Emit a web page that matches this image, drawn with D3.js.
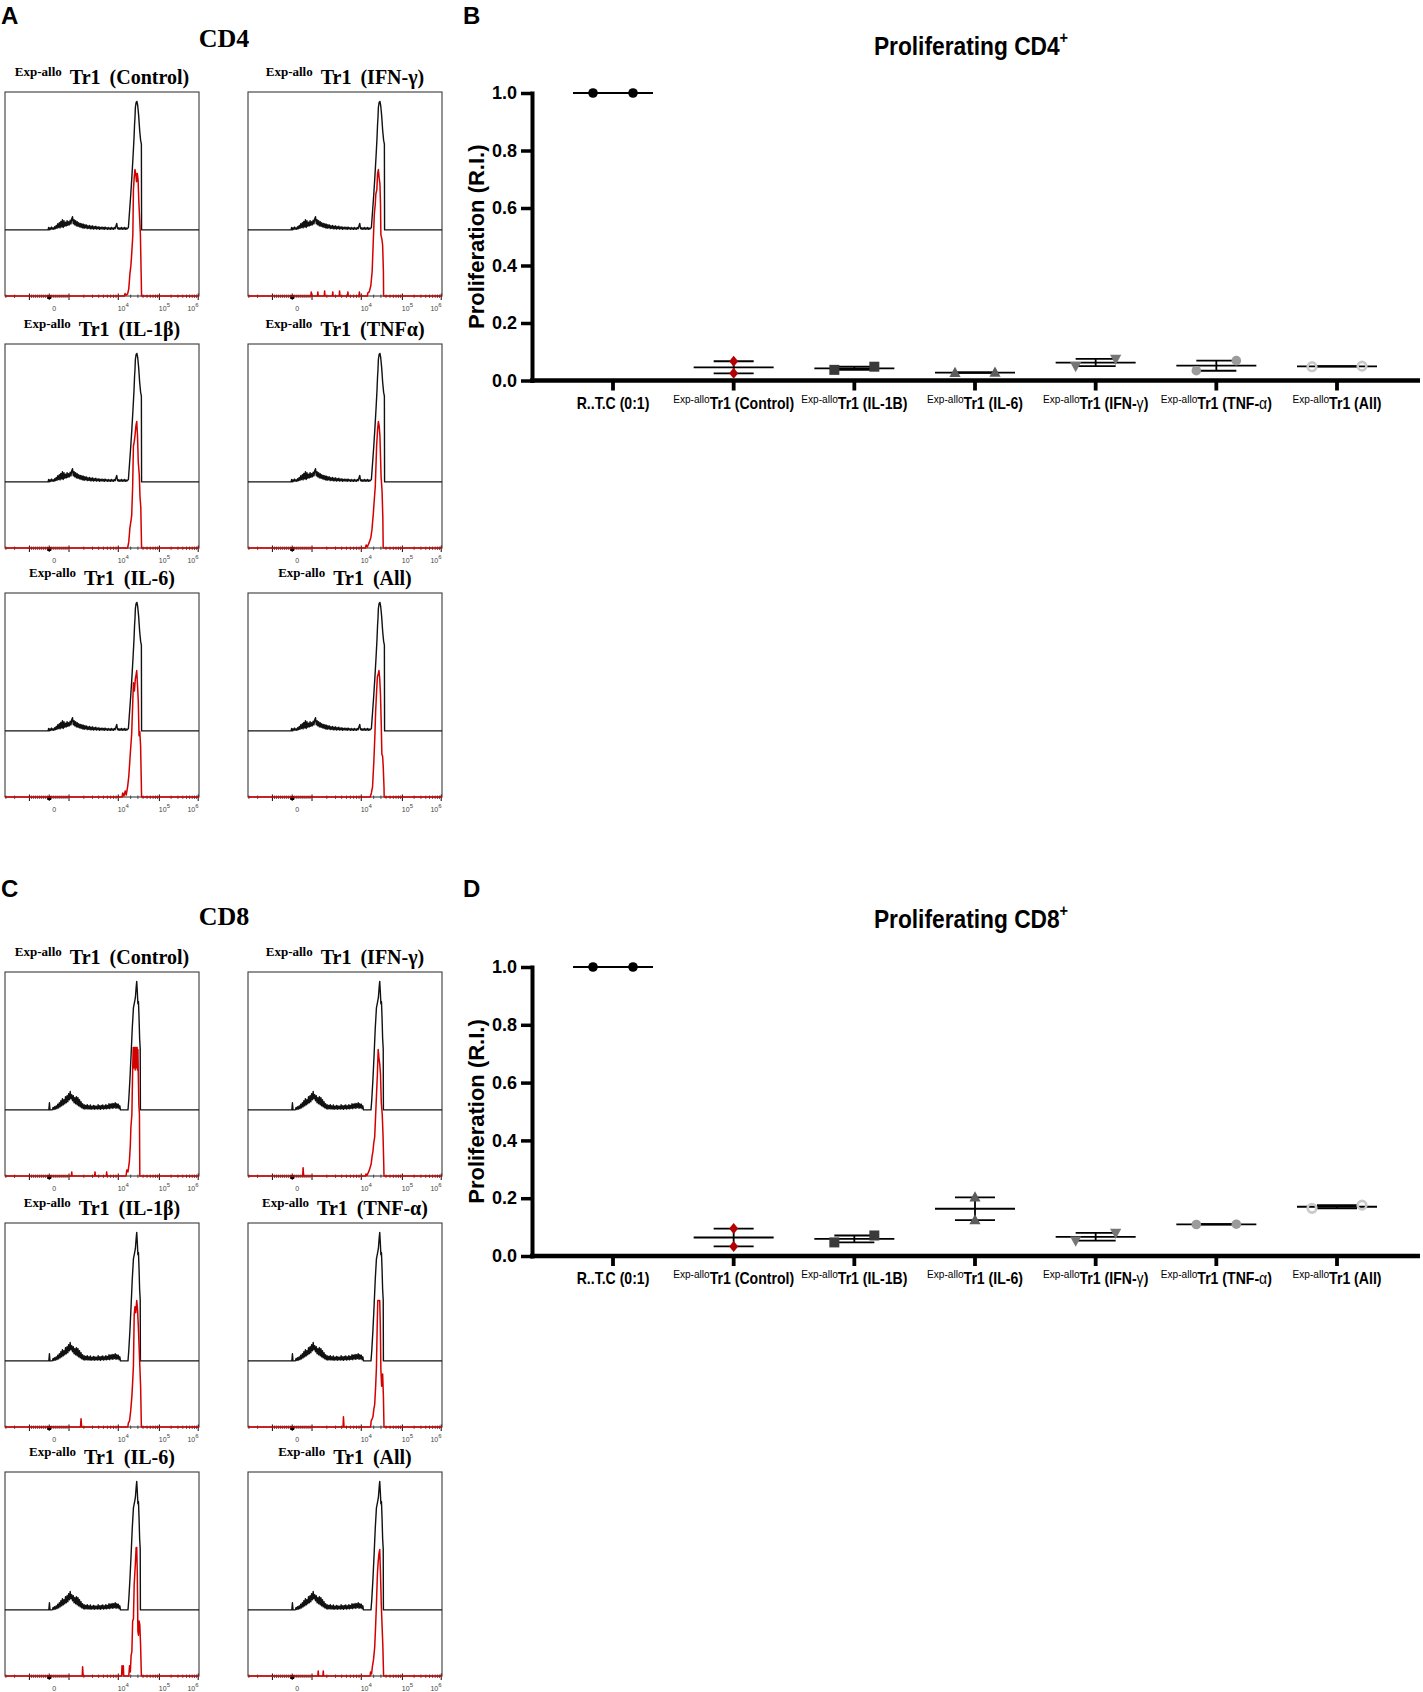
<!DOCTYPE html>
<html><head><meta charset="utf-8">
<script src="https://cdn.jsdelivr.net/npm/d3@7/dist/d3.min.js"></script>
<style>body{margin:0;background:#fff}svg{display:block}</style>
</head><body><svg id="c" width="1423" height="1692"></svg>
<script>
// ---------------- DATA ----------------
// Histogram curves: [channel (0-100 % of display range), height (fraction of modal height)]
const blackCD4 = [[0,0],[22.2,0],[22.5,0.012],[22.8,0],[23.2,0.01],[23.6,0.002],[24,0.014],[24.4,0.004],[24.8,0.01],[25.2,0.003],[25.6,0.016],[26,0.006],[26.4,0.022],[26.8,0.008],[27.2,0.03],[27.6,0.012],[28,0.035],[28.4,0.01],[28.8,0.042],[29.2,0.015],[29.6,0.05],[30,0.012],[30.4,0.045],[30.8,0.018],[31.2,0.038],[31.6,0.02],[32,0.045],[32.4,0.022],[32.8,0.04],[33.2,0.025],[33.6,0.048],[34,0.03],[34.4,0.055],[34.8,0.065],[35.2,0.03],[35.6,0.05],[36,0.025],[36.4,0.045],[36.8,0.02],[37.2,0.04],[37.6,0.018],[38,0.035],[38.4,0.015],[38.8,0.032],[39.2,0.012],[39.6,0.03],[40,0.01],[40.4,0.028],[40.8,0.008],[41.2,0.025],[41.6,0.01],[42,0.024],[42.4,0.006],[42.8,0.02],[43.2,0.008],[43.6,0.022],[44,0.005],[44.4,0.018],[44.8,0.006],[45.2,0.02],[45.6,0.004],[46,0.016],[46.4,0.006],[46.8,0.018],[47.2,0.004],[47.6,0.014],[48,0.005],[48.4,0.016],[48.8,0.003],[49.2,0.012],[49.6,0.005],[50,0.014],[50.4,0.004],[50.8,0.012],[51.2,0.003],[51.6,0.014],[52,0.005],[52.4,0.01],[52.8,0.003],[53.2,0.012],[53.6,0.004],[54,0.01],[54.4,0.003],[54.8,0.012],[55.2,0.004],[55.6,0.01],[56,0.003],[56.4,0.012],[56.8,0.006],[57.2,0.02],[57.6,0.032],[58,0.006],[58.4,0.01],[58.8,0.003],[59.2,0.01],[59.6,0.004],[60,0.012],[60.4,0.003],[60.8,0.01],[61.2,0.004],[61.6,0.012],[62,0.003],[62.4,0.01],[62.8,0.004],[63.2,0.008],[63.6,0.012],[64.2,0.09],[64.8,0.17],[65.4,0.26],[66,0.36],[66.5,0.45],[66.8,0.52],[67.0,0.55],[67.2,0.6],[67.6,0.625],[68.0,0.63],[68.4,0.61],[68.9,0.56],[69.4,0.49],[69.9,0.44],[70.3,0.42],[70.4,0],[100,0]];
const blackCD8 = [[0,0],[22.6,0],[22.9,0.035],[23.2,0],[24.4,0],[24.8,0.012],[25.2,0.002],[25.6,0.016],[26,0.004],[26.4,0.02],[26.8,0.006],[27.2,0.028],[27.6,0.01],[28,0.035],[28.4,0.015],[28.8,0.045],[29.2,0.02],[29.6,0.055],[30,0.025],[30.4,0.05],[30.8,0.03],[31.2,0.065],[31.6,0.035],[32,0.07],[32.4,0.04],[32.8,0.08],[33.2,0.05],[33.6,0.09],[34,0.055],[34.4,0.075],[34.8,0.045],[35.2,0.07],[35.6,0.035],[36,0.06],[36.4,0.03],[36.8,0.065],[37.2,0.025],[37.6,0.06],[38,0.02],[38.4,0.05],[38.8,0.015],[39.2,0.04],[39.6,0.01],[40,0.03],[40.4,0.006],[40.8,0.025],[41.2,0.004],[41.6,0.022],[42,0.006],[42.4,0.026],[42.8,0.004],[43.2,0.02],[43.6,0.005],[44,0.024],[44.4,0.003],[44.8,0.018],[45.2,0.006],[45.6,0.022],[46,0.003],[46.4,0.02],[46.8,0.005],[47.2,0.018],[47.6,0.004],[48,0.025],[48.4,0.005],[48.8,0.02],[49.2,0.003],[49.6,0.022],[50,0.006],[50.4,0.024],[50.8,0.004],[51.2,0.02],[51.6,0.006],[52,0.026],[52.4,0.005],[52.8,0.022],[53.2,0.008],[53.6,0.03],[54,0.006],[54.4,0.028],[54.8,0.01],[55.2,0.032],[55.6,0.008],[56,0.03],[56.4,0.012],[56.8,0.035],[57.2,0.008],[57.6,0.03],[58,0.01],[58.4,0.028],[58.8,0.006],[59.2,0.02],[59.5,0],[63.4,0],[63.8,0.05],[64.4,0.15],[65,0.27],[65.6,0.4],[66.2,0.5],[66.8,0.53],[67.2,0.55],[67.6,0.6],[67.9,0.63],[68.2,0.58],[68.5,0.52],[68.8,0.53],[69.1,0.45],[69.4,0.35],[69.7,0.3],[69.8,0],[100,0]];

const redCD4Control = [[0,0],[61.5,0],[61.9,0.012],[62.4,0.004],[63.2,0.01],[63.8,0.035],[64.4,0.11],[64.9,0.15],[65.4,0.22],[65.9,0.3],[66.2,0.52],[66.6,0.58],[67.0,0.62],[67.4,0.6],[67.8,0.56],[68.2,0.6],[68.6,0.57],[69.0,0.46],[69.4,0.38],[69.8,0.3],[70.2,0.1],[70.4,0],[100,0]];
const redCD4IFN = [[0,0],[32.4,0],[32.6,0.02],[32.8,0],[35.8,0],[36,0.02],[36.2,0],[39.3,0],[39.5,0.025],[39.7,0],[43.5,0],[43.7,0.02],[43.9,0],[47,0],[47.2,0.025],[47.4,0],[51.3,0],[51.5,0.02],[51.7,0],[57.2,0],[57.4,0.02],[57.6,0],[61.5,0],[61.8,0.015],[62.5,0.02],[63.3,0.05],[64,0.12],[64.5,0.25],[65.1,0.4],[65.6,0.45],[65.9,0.5],[66.4,0.52],[66.8,0.6],[67.2,0.62],[67.6,0.58],[68,0.55],[68.3,0.45],[68.5,0.3],[69,0.28],[69.4,0.25],[69.8,0.12],[69.9,0],[100,0]];
const redCD4IL1b = [[0,0],[63.2,0],[63.8,0.03],[64.4,0.1],[64.9,0.13],[65.3,0.16],[65.8,0.3],[66.2,0.5],[66.6,0.52],[67,0.55],[67.5,0.6],[67.9,0.62],[68.3,0.55],[68.7,0.42],[69.2,0.36],[69.6,0.25],[70,0.2],[70.4,0],[100,0]];
const redCD4TNF = [[0,0],[60.5,0],[60.9,0.015],[61.5,0.005],[62.6,0.03],[63.3,0.05],[63.9,0.09],[64.6,0.17],[65.2,0.25],[65.6,0.3],[66.3,0.5],[66.8,0.58],[67.2,0.62],[67.6,0.6],[68,0.55],[68.3,0.45],[68.6,0.35],[69.1,0.28],[69.5,0.15],[69.7,0],[100,0]];
const redCD4IL6 = [[0,0],[60.3,0],[60.7,0.02],[61.3,0.005],[62,0.03],[62.5,0.01],[63.2,0.05],[63.8,0.1],[64.5,0.2],[65.3,0.31],[65.8,0.45],[66.2,0.56],[66.7,0.52],[67.2,0.58],[67.6,0.6],[67.9,0.62],[68.3,0.55],[68.7,0.47],[69.1,0.3],[69.5,0.32],[69.9,0.25],[70.2,0.1],[70.4,0],[100,0]];
const redCD4All = [[0,0],[63,0],[63.6,0.02],[64.2,0.05],[64.9,0.18],[65.4,0.3],[65.8,0.42],[66.3,0.52],[66.7,0.59],[67.1,0.6],[67.5,0.62],[67.9,0.58],[68.3,0.5],[68.7,0.35],[69,0.21],[69.4,0.2],[69.7,0.15],[70.1,0.05],[70.2,0],[100,0]];

const redCD8Control = [[0,0],[34.2,0],[34.4,0.02],[34.6,0],[46.2,0],[46.4,0.02],[46.6,0],[52.2,0],[52.4,0.02],[52.6,0],[62.4,0],[62.8,0.03],[63.4,0.02],[64.1,0.07],[64.6,0.15],[64.9,0.24],[65.4,0.3],[65.8,0.52],[66.1,0.63],[66.3,0.53],[66.5,0.63],[66.7,0.54],[66.9,0.63],[67.1,0.52],[67.3,0.63],[67.5,0.54],[67.7,0.63],[67.9,0.53],[68.1,0.63],[68.3,0.52],[68.5,0.62],[68.7,0.5],[69,0.35],[69.3,0.3],[69.5,0],[100,0]];
const redCD8IFN = [[0,0],[28.2,0],[28.4,0.04],[28.7,0],[60.6,0],[60.8,0.01],[61.4,0.004],[62.6,0.03],[63.5,0.06],[64,0.1],[64.4,0.12],[64.8,0.16],[65.3,0.19],[65.8,0.3],[66.2,0.39],[66.7,0.5],[67.1,0.62],[67.5,0.58],[67.9,0.55],[68.3,0.5],[68.7,0.36],[69.2,0.3],[69.6,0.2],[70,0.05],[70.1,0],[100,0]];
const redCD8IL1b = [[0,0],[38.9,0],[39.2,0.04],[39.5,0],[63.3,0],[63.6,0.02],[64.2,0.03],[64.8,0.08],[65.4,0.15],[65.8,0.22],[66.2,0.3],[66.6,0.55],[67,0.59],[67.4,0.56],[67.9,0.62],[68.3,0.58],[68.7,0.5],[69.1,0.4],[69.5,0.3],[69.9,0.2],[70.3,0],[100,0]];
const redCD8TNF = [[0,0],[49,0],[49.2,0.05],[49.5,0],[63.2,0],[63.5,0.03],[64,0.04],[64.4,0.05],[64.9,0.09],[65.3,0.11],[65.8,0.2],[66.2,0.29],[66.6,0.5],[66.9,0.62],[67.9,0.62],[68.2,0.5],[68.5,0.28],[68.9,0.2],[69.4,0.26],[69.8,0.15],[70.1,0],[100,0]];
const redCD8IL6 = [[0,0],[39.8,0],[40,0.045],[40.3,0],[60.1,0],[60.3,0.05],[60.6,0.01],[61,0.05],[61.2,0],[63.8,0],[64.2,0.05],[64.6,0.02],[65.0,0.1],[65.4,0.12],[65.8,0.27],[66.2,0.28],[66.6,0.45],[67.2,0.55],[67.6,0.63],[67.9,0.63],[68.2,0.5],[68.5,0.22],[68.8,0.2],[69.1,0.27],[69.5,0.25],[69.9,0.15],[70.3,0],[100,0]];
const redCD8All = [[0,0],[36,0],[36.2,0.025],[36.4,0],[38.6,0],[38.8,0.025],[39,0],[62.9,0],[63.2,0.02],[63.7,0.01],[64.1,0.045],[64.7,0.08],[65.3,0.14],[65.8,0.25],[66.2,0.35],[66.7,0.5],[67.1,0.56],[67.5,0.6],[67.9,0.62],[68.3,0.5],[68.7,0.35],[69.1,0.25],[69.5,0.15],[69.9,0],[100,0]];

const histPrefix = "Exp-allo";
const cd4Titles = ["Tr1 (Control)", "Tr1 (IFN-γ)", "Tr1 (IL-1β)", "Tr1 (TNFα)", "Tr1 (IL-6)", "Tr1 (All)"];
const cd8Titles = ["Tr1 (Control)", "Tr1 (IFN-γ)", "Tr1 (IL-1β)", "Tr1 (TNF-α)", "Tr1 (IL-6)", "Tr1 (All)"];
const cd4Red = [redCD4Control, redCD4IFN, redCD4IL1b, redCD4TNF, redCD4IL6, redCD4All];
const cd8Red = [redCD8Control, redCD8IFN, redCD8IL1b, redCD8TNF, redCD8IL6, redCD8All];
const histTickValues = [0, 1e4, 1e5, 1e6];
const histTickBase = ["0", "10", "10", "10"];
const histTickExp = ["", "4", "5", "6"];

// Scatter charts
const categories = ["R..T.C (0:1)", "Tr1 (Control)", "Tr1 (IL-1B)", "Tr1 (IL-6)", "Tr1 (IFN-γ)", "Tr1 (TNF-α)", "Tr1 (All)"];
const catPrefix = ["", "Exp-allo", "Exp-allo", "Exp-allo", "Exp-allo", "Exp-allo", "Exp-allo"];
const yTicks = [0, 0.2, 0.4, 0.6, 0.8, 1.0];
const cd4Values = [[1.0, 1.0], [0.025, 0.067], [0.037, 0.048], [0.027, 0.028], [0.05, 0.075], [0.034, 0.069], [0.048, 0.05]];
const cd8Values = [[1.0, 1.0], [0.033, 0.095], [0.047, 0.071], [0.124, 0.203], [0.053, 0.08], [0.109, 0.11], [0.165, 0.176]];

// ---------------- STYLE ----------------
const serif = "'Liberation Serif','Times New Roman',serif";
const sans = "'Liberation Sans',Arial,Helvetica,sans-serif";
const markerStyle = [
  {shape:"circle", fill:"#000", stroke:"none", spread:20},
  {shape:"diamond", fill:"#b30000", stroke:"none", spread:20},
  {shape:"square", fill:"#3a3a3a", stroke:"none", spread:20},
  {shape:"triUp", fill:"#5c5c5c", stroke:"none", spread:20},
  {shape:"triDown", fill:"#767676", stroke:"none", spread:20},
  {shape:"circle", fill:"#9b9b9b", stroke:"none", spread:20},
  {shape:"open", fill:"none", stroke:"#c9c9c9", spread:25}
];

const svg = d3.select("#c");

// ---------------- HISTOGRAMS ----------------
const flLin = d3.scaleLinear().domain([-1000, 1000]).range([12.6, 33]);
const flLog = d3.scaleLinear().domain([3, 4, 5, 6]).range([33, 58.4, 79.6, 99.6]);
function fl(v) {
  if (Math.abs(v) <= 1000) return flLin(v);
  const c = flLog(Math.log10(Math.abs(v)));
  return v > 0 ? c : flLin(-1000) - (c - flLin(1000));
}
const majorTicks = [-1000, 0, 1000, 1e4, 1e5, 1e6];
const minorTicks = [];
for (let v = -900; v <= 900; v += 100) if (v !== 0) minorTicks.push(v);
for (const k of [3, 4, 5]) for (let m = 2; m <= 9; m++) { minorTicks.push(m * 10 ** k); minorTicks.push(-m * 10 ** k); }

function drawHist(x0, y0, w, h, black, red, title) {
  const g = svg.append("g");
  const hx = d3.scaleLinear().domain([0, 100]).range([x0, x0 + w]);
  const hy = d3.scaleLinear().domain([0, 1]).range([y0 + h, y0]);
  const offset = 0.324;
  // title
  const t = g.append("text").attr("x", x0 + w / 2).attr("y", y0 - 8)
    .attr("text-anchor", "middle").attr("font-family", serif).attr("font-weight", "bold");
  t.append("tspan").attr("font-size", 13).attr("dy", -8).text(histPrefix);
  t.append("tspan").attr("font-size", 20).attr("dy", 8).attr("dx", 8)
    .attr("word-spacing", 4).text(title);
  // box
  g.append("rect").attr("x", x0).attr("y", y0).attr("width", w).attr("height", h)
    .attr("fill", "none").attr("stroke", "#3a3a3a").attr("stroke-width", 1.1);
  // axis ticks
  const yb = y0 + h;
  g.selectAll(".mn").data(minorTicks.filter(v => fl(v) >= 0 && fl(v) <= 100)).join("line")
    .attr("x1", d => hx(fl(d))).attr("x2", d => hx(fl(d)))
    .attr("y1", yb - 1.5).attr("y2", yb + 2).attr("stroke", "#333").attr("stroke-width", 0.8);
  g.selectAll(".mj").data(majorTicks).join("line")
    .attr("x1", d => hx(fl(d))).attr("x2", d => hx(fl(d)))
    .attr("y1", yb - 2.5).attr("y2", yb + 4).attr("stroke", "#222").attr("stroke-width", 1.1);
  g.append("rect").attr("x", hx(fl(0)) - 2).attr("y", yb - 1).attr("width", 4).attr("height", 4).attr("fill", "#000");
  // tick labels
  histTickValues.forEach((v, i) => {
    const lx = Math.min(hx(fl(v)) + 5, x0 + w - 6);
    const tl = g.append("text").attr("x", lx).attr("y", yb + 15).attr("text-anchor", "middle")
      .attr("font-family", sans).attr("font-size", 7).attr("fill", "#444");
    tl.append("tspan").text(histTickBase[i]);
    if (histTickExp[i]) tl.append("tspan").attr("font-size", 6).attr("dy", -4).text(histTickExp[i]);
  });
  // curves
  g.append("path").datum(black)
    .attr("d", d3.line().x(d => hx(d[0])).y(d => hy(d[1] + offset)))
    .attr("fill", "none").attr("stroke", "#111").attr("stroke-width", 1.4).attr("stroke-linejoin", "round");
  g.append("path").datum(red)
    .attr("d", d3.line().x(d => hx(d[0])).y(d => hy(d[1])))
    .attr("fill", "none").attr("stroke", "#d40000").attr("stroke-width", 1.5).attr("stroke-linejoin", "round");
}

function histPanel(letter, letterY, heading, headingY, rows, black, reds, titles) {
  svg.append("text").attr("x", 1).attr("y", letterY).attr("font-family", sans)
    .attr("font-weight", "bold").attr("font-size", 24).text(letter);
  svg.append("text").attr("x", 224).attr("y", headingY).attr("text-anchor", "middle")
    .attr("font-family", serif).attr("font-weight", "bold").attr("font-size", 26).text(heading);
  const cols = [5, 248];
  reds.forEach((r, i) => {
    drawHist(cols[i % 2], rows[Math.floor(i / 2)], 194, 204, black, r, titles[i]);
  });
}
histPanel("A", 24, "CD4", 47, [92, 344, 593], blackCD4, cd4Red, cd4Titles);
histPanel("C", 897, "CD8", 925, [972, 1223, 1472], blackCD8, cd8Red, cd8Titles);

// ---------------- SCATTER ----------------
function markerPath(shape) {
  switch (shape) {
    case "diamond": return "M0,-5.5L4.5,0L0,5.5L-4.5,0Z";
    case "square": return "M-5,-5H5V5H-5Z";
    case "triUp": return "M0,-6L5.6,4.2L-5.6,4.2Z";
    case "triDown": return "M0,6L5.6,-4.2L-5.6,-4.2Z";
    case "open": return d3.symbol(d3.symbolCircle, Math.PI * 4.3 * 4.3)();
    default: return d3.symbol(d3.symbolCircle, Math.PI * 4.8 * 4.8)();
  }
}

function scatterPanel(letter, letterY, titleText, titleY, yRange, values) {
  const g = svg.append("g");
  g.append("text").attr("x", 463).attr("y", letterY).attr("font-family", sans)
    .attr("font-weight", "bold").attr("font-size", 24).text(letter);
  const tg = g.append("g").attr("transform", `translate(971,${titleY}) scale(0.91,1)`);
  const tt = tg.append("text").attr("x", 0).attr("y", 0).attr("text-anchor", "middle")
    .attr("font-family", sans).attr("font-weight", "bold").attr("font-size", 25);
  tt.append("tspan").text(titleText);
  tt.append("tspan").attr("font-size", 16).attr("dy", -12).text("+");

  const x = d3.scalePoint().domain(categories).range([613, 1337]);
  const y = d3.scaleLinear().domain([0, 1]).range(yRange);
  const axX = 532;

  // y axis
  const ya = g.append("g").attr("transform", `translate(${axX},0)`)
    .call(d3.axisLeft(y).tickValues(yTicks).tickFormat(d3.format(".1f")).tickSize(11).tickSizeOuter(0).tickPadding(4));
  ya.select(".domain").attr("stroke", "#000").attr("stroke-width", 4).attr("stroke-linecap", "square");
  ya.selectAll(".tick line").attr("stroke", "#000").attr("stroke-width", 3.5);
  ya.selectAll(".tick text").attr("font-family", sans).attr("font-weight", "bold").attr("font-size", 18).attr("fill", "#000");

  g.append("text").attr("transform", `translate(484,${(yRange[0] + yRange[1]) / 2}) rotate(-90)`)
    .attr("text-anchor", "middle").attr("font-family", sans).attr("font-weight", "bold")
    .attr("font-size", 22).text("Proliferation (R.I.)");

  // x axis
  const y0 = y(0);
  g.append("line").attr("x1", axX - 2).attr("x2", 1420).attr("y1", y0).attr("y2", y0)
    .attr("stroke", "#000").attr("stroke-width", 4.3);
  g.selectAll(".xt").data(categories).join("line")
    .attr("x1", d => x(d)).attr("x2", d => x(d)).attr("y1", y0).attr("y2", y0 + 10)
    .attr("stroke", "#000").attr("stroke-width", 3.8);
  categories.forEach((c, i) => {
    const lg = g.append("g").attr("transform", `translate(${x(c)},${y0 + 28}) scale(0.88,1)`);
    const t = lg.append("text").attr("x", 0).attr("y", 0).attr("text-anchor", "middle")
      .attr("font-family", sans).attr("font-size", 16).attr("fill", "#000");
    if (catPrefix[i]) {
      t.append("tspan").attr("font-size", 11.5).attr("font-weight", "normal").attr("dy", -6).text(catPrefix[i]);
    }
    const parts = c.split(/([α-ω])/).filter(s => s.length);
    parts.forEach((p, k) => {
      const sp = t.append("tspan").attr("font-weight", /^[α-ω]$/.test(p) ? "normal" : "bold").text(p);
      if (k === 0 && catPrefix[i]) sp.attr("dy", 6);
    });
  });

  // means, SEM, points
  values.forEach((vals, i) => {
    const cx = x(categories[i]);
    const mean = d3.mean(vals);
    const sem = d3.deviation(vals) / Math.sqrt(vals.length);
    const st = markerStyle[i];
    const lg = g.append("g").attr("stroke", "#000").attr("stroke-width", 1.8);
    lg.append("line").attr("x1", cx - 40).attr("x2", cx + 40).attr("y1", y(mean)).attr("y2", y(mean));
    [mean - sem, mean + sem].forEach(v => {
      lg.append("line").attr("x1", cx - 20).attr("x2", cx + 20).attr("y1", y(v)).attr("y2", y(v));
    });
    lg.append("line").attr("x1", cx).attr("x2", cx).attr("y1", y(mean - sem)).attr("y2", y(mean + sem));

    const sorted = vals.slice().sort((a, b) => a - b);
    const close = Math.abs(y(sorted[0]) - y(sorted[1])) < 11;
    sorted.forEach((v, k) => {
      const px = close ? cx + (k === 0 ? -st.spread : st.spread) : cx;
      g.append("path").attr("d", markerPath(st.shape))
        .attr("transform", `translate(${px},${y(v)})`)
        .attr("fill", st.fill).attr("stroke", st.stroke)
        .attr("stroke-width", st.shape === "open" ? 2.6 : 0);
    });
  });
}

scatterPanel("B", 24, "Proliferating CD4", 55, [380.5, 93], cd4Values);
scatterPanel("D", 897, "Proliferating CD8", 928, [1256, 967], cd8Values);
</script></body></html>
